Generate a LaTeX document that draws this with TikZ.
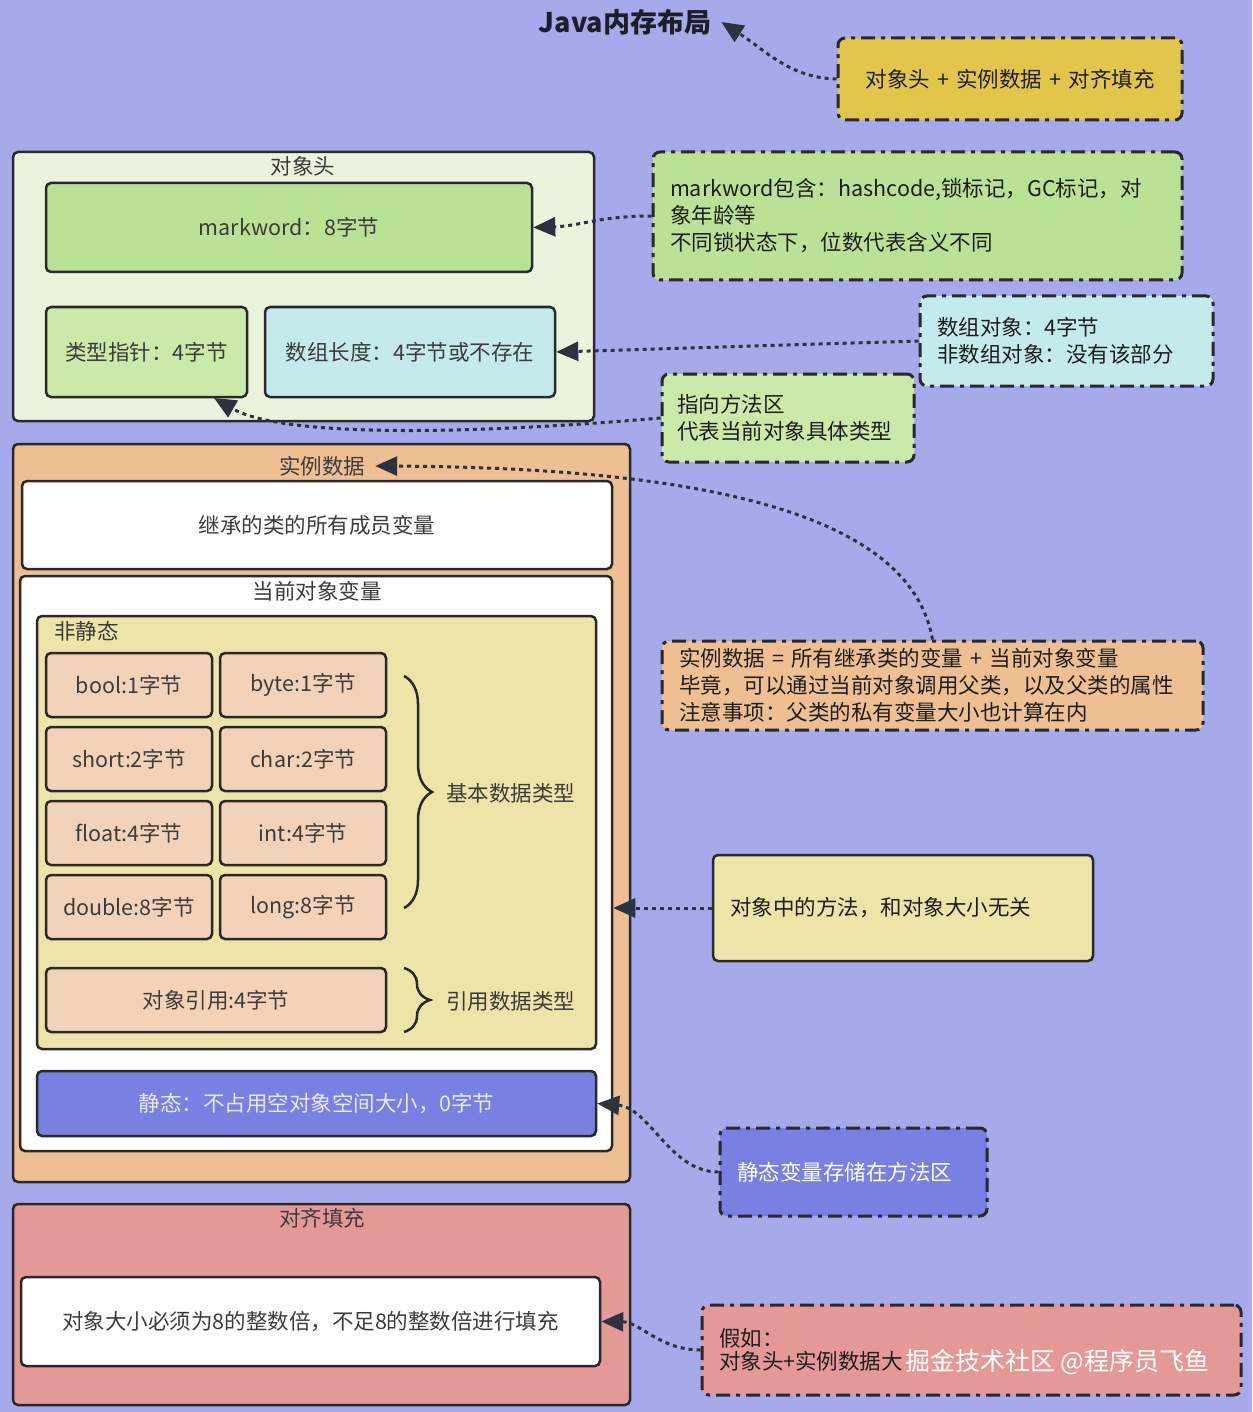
\documentclass[tikz,border=0pt]{standalone}
\usepackage{fontspec}
\setmainfont{Noto Sans CJK SC}
\usetikzlibrary{arrows.meta,decorations.pathreplacing}
\definecolor{bg}{RGB}{166,170,234}
\definecolor{linec}{RGB}{40,40,45}
\definecolor{connc}{RGB}{45,50,65}
\definecolor{titletext}{RGB}{30,30,40}
\definecolor{boxtext}{RGB}{60,60,60}
\definecolor{notetext}{RGB}{30,30,30}
\definecolor{ynote}{RGB}{226,198,76}
\definecolor{hdrbg}{RGB}{234,244,221}
\definecolor{mwgreen}{RGB}{186,226,150}
\definecolor{ptrgreen}{RGB}{203,233,168}
\definecolor{cyanbox}{RGB}{197,234,236}
\definecolor{instbg}{RGB}{238,191,146}
\definecolor{nsbg}{RGB}{236,228,168}
\definecolor{typebg}{RGB}{242,211,186}
\definecolor{staticbg}{RGB}{120,128,226}
\definecolor{statictext}{RGB}{232,234,255}
\definecolor{padbg}{RGB}{228,153,151}
\tikzset{
  box/.style={draw=linec, line width=2.5pt, rounded corners=5pt, inner sep=0pt, text=boxtext, align=center},
  tbox/.style={box, fill=typebg, minimum width=166pt, minimum height=64pt},
  note/.style={draw=linec, line width=3pt, rounded corners=7pt, dash pattern=on 14pt off 6pt on 4pt off 6pt, inner ysep=0pt, inner xsep=17pt, text=notetext, align=left},
  conn/.style={draw=connc, line width=3pt, dash pattern=on 4pt off 4pt, -{Triangle[length=22pt,width=19pt]}},
  lbl/.style={inner sep=0pt, text=boxtext},
  brc/.style={draw=linec, line width=2.5pt, decorate, decoration={brace, amplitude=28pt}},
}
\begin{document}
\begin{tikzpicture}[x=1pt,y=-1pt, font=\fontsize{21.5}{27}\selectfont]
\fill[bg] (0,0) rectangle (1252,1412);
\useasboundingbox (0,0) rectangle (1252,1412);

% title
\node[lbl, text=titletext, font=\fontsize{27}{30}\selectfont\bfseries] (title) at (625,22) {Java内存布局};
\node[note, fill=ynote, minimum width=344pt, minimum height=82pt, text width=310pt, align=center] (ynote) at (1010,79) {对象头 + 实例数据 + 对齐填充};

% object header
\node[box, fill=hdrbg, minimum width=581pt, minimum height=269pt] (hdr) at (303.5,286.5) {};
\node[lbl] (hdrlabel) at (303,166) {对象头};
\node[box, fill=mwgreen, minimum width=486pt, minimum height=89pt] (mw) at (289,227.5) {markword：8字节};
\node[box, fill=ptrgreen, minimum width=201pt, minimum height=90pt] (ptr) at (146.5,352) {类型指针：4字节};
\node[box, fill=cyanbox, minimum width=290pt, minimum height=90pt] (arr) at (410,352) {数组长度：4字节或不存在};

\node[note, fill=mwgreen, minimum width=529pt, minimum height=128pt, text width=495pt] (mwnote) at (917.5,216) {markword包含：hashcode,锁标记，GC标记，对\\象年龄等\\不同锁状态下，位数代表含义不同};
\node[note, fill=cyanbox, minimum width=293pt, minimum height=90pt, text width=259pt] (arrnote) at (1066.5,341) {数组对象：4字节\\非数组对象：没有该部分};
\node[note, fill=ptrgreen, minimum width=252pt, minimum height=88pt, inner xsep=15pt, text width=222pt] (ptrnote) at (788,418) {指向方法区\\代表当前对象具体类型};

% instance data
\node[box, fill=instbg, minimum width=617pt, minimum height=738pt] (inst) at (321.5,813) {};
\node[lbl] (instlabel) at (322,466) {实例数据};
\node[box, fill=white, minimum width=590pt, minimum height=88pt] (inherit) at (317,525) {继承的类的所有成员变量};
\node[box, fill=white, minimum width=592pt, minimum height=575pt] (cur) at (316,863.5) {};
\node[lbl] (curlabel) at (317,591) {当前对象变量};
\node[box, fill=nsbg, minimum width=559pt, minimum height=433pt] (ns) at (316.5,832.5) {};
\node[lbl, anchor=west] (nslabel) at (54,631) {非静态};

\node[tbox] (tbool) at (129,685) {bool:1字节};
\node[tbox] (tbyte) at (303,685) {byte:1字节};
\node[tbox] (tshort) at (129,759) {short:2字节};
\node[tbox] (tchar) at (303,759) {char:2字节};
\node[tbox] (tfloat) at (129,833) {float:4字节};
\node[tbox] (tint) at (303,833) {int:4字节};
\node[tbox] (tdouble) at (129,907) {double:8字节};
\node[tbox] (tlong) at (303,907) {long:8字节};
\node[box, fill=typebg, minimum width=340pt, minimum height=64pt] (tref) at (216,1000) {对象引用:4字节};

\coordinate (b1a) at (404,676);
\coordinate (b1b) at (404,908);
\draw[brc] (b1a) -- (b1b);
\node[lbl, anchor=west] (basic) at (446,793) {基本数据类型};
\coordinate (b2a) at (404,968);
\coordinate (b2b) at (404,1032);
\draw[brc, decoration={brace, amplitude=26pt}] (b2a) -- (b2b);
\node[lbl, anchor=west] (refl) at (446,1001) {引用数据类型};

\node[box, fill=staticbg, text=statictext, minimum width=559pt, minimum height=65pt] (static) at (316.5,1103.5) {静态：不占用空对象空间大小，0字节};

\node[box, fill=nsbg, text=notetext, minimum width=380pt, minimum height=106pt, inner xsep=17pt, text width=346pt, align=left] (methnote) at (903,908) {对象中的方法，和对象大小无关};
\node[note, fill=instbg, minimum width=541pt, minimum height=89pt, text width=507pt] (instnote) at (932.5,685.5) {实例数据 = 所有继承类的变量 + 当前对象变量\\毕竟，可以通过当前对象调用父类，以及父类的属性\\注意事项：父类的私有变量大小也计算在内};
\node[note, fill=staticbg, text=white, minimum width=267pt, minimum height=88pt, text width=233pt] (stnote) at (853.5,1172) {静态变量存储在方法区};

% padding
\node[box, fill=padbg, minimum width=617pt, minimum height=201pt] (pad) at (321.5,1304.5) {};
\node[lbl] (padlabel) at (322,1218) {对齐填充};
\node[box, fill=white, minimum width=579pt, minimum height=89pt] (padwhite) at (310.5,1321.5) {对象大小必须为8的整数倍，不足8的整数倍进行填充};
\node[note, fill=padbg, minimum width=539pt, minimum height=90pt, text width=505pt, font=\fontsize{21.5}{23}\selectfont] (padnote) at (971.5,1350) {假如：\\对象头+实例数据大};
\node[lbl, anchor=west, text=white, font=\fontsize{25}{25}\selectfont] (wm) at (905,1362) {掘金技术社区 @程序员飞鱼};

% connectors
\draw[conn] (ynote.west) .. controls (790,78) and (765,50) .. ([xshift=10pt]title.east);
\draw[conn] (mwnote.west) .. controls (600,216) and (580,226) .. (mw.east);
\draw[conn] (arrnote.west) -- (arr.east);
\coordinate (ptrtip) at (214,398);
\draw[conn] (ptrnote.west) .. controls (450,436) and (280,436) .. (ptrtip);
\draw[conn] (instnote.north) .. controls (915,540) and (780,468) .. ([xshift=10pt]instlabel.east);
\draw[conn] (methnote.west) -- (methnote.west -| cur.east);
\draw[conn] (stnote.west) .. controls (670,1172) and (650,1108) .. (static.east);
\draw[conn] (padnote.west) .. controls (660,1350) and (640,1322) .. (padwhite.east);
\end{tikzpicture}
\end{document}
